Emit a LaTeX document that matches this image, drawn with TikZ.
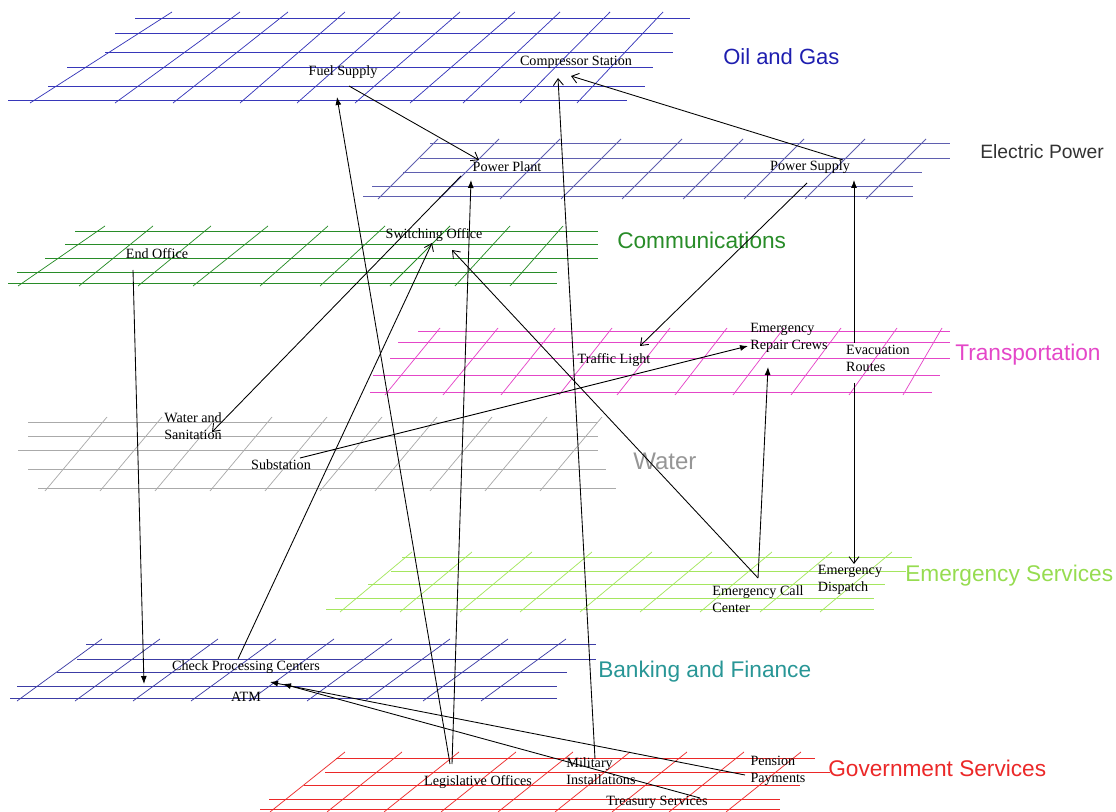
\documentclass[tikz,border=0pt]{standalone}
\usepackage{fontspec}
\setmainfont{Liberation Serif}
\setsansfont{Liberation Sans}
\usepackage{tikz}
\usetikzlibrary{arrows.meta}

\definecolor{oilblue}{RGB}{55,55,185}
\definecolor{oiltext}{RGB}{30,30,175}
\definecolor{powerblue}{RGB}{95,95,175}
\definecolor{powertext}{RGB}{50,50,50}
\definecolor{commgreen}{RGB}{40,140,40}
\definecolor{transpink}{RGB}{228,70,200}
\definecolor{watergray}{RGB}{170,170,170}
\definecolor{watertext}{RGB}{150,150,150}
\definecolor{emergreen}{RGB}{165,230,95}
\definecolor{emertext}{RGB}{150,220,80}
\definecolor{bankblue}{RGB}{60,60,165}
\definecolor{banktext}{RGB}{40,150,150}
\definecolor{govred}{RGB}{235,40,40}

\begin{document}
\begin{tikzpicture}[x=0.75pt,y=-0.75pt]
    %
    % `item' is used for the Times labels on the planes.
    % `layer' is used for the plane names on the right.
    % `opentip' and `solidtip' are the two kinds of dependency arrows.
    \tikzstyle{item} = [font=\fontsize{10.6}{12.6}\selectfont,inner sep=0pt,align=left]
    \tikzstyle{layer} = [font=\sffamily\fontsize{17}{20}\selectfont,anchor=west,inner sep=0pt]
    \tikzstyle{row} = [line width=0.65pt]
    \tikzstyle{slant} = [line width=0.55pt]
    \tikzstyle{opentip} = [line width=0.65pt,-{Straight Barb[length=5pt,width=7.5pt]}]
    \tikzstyle{solidtip} = [line width=0.65pt,-{Latex[length=6pt,width=4.5pt]}]
    %
    \useasboundingbox (0,0) rectangle (1116,812);
    %
    % Oil and Gas
    \foreach \y/\a/\b in {18/135/690, 33/115/673, 52/105/673, 67/67/653, 86/48/645, 100/8/627}
        \draw[row,oilblue] (\a,\y) -- (\b,\y);
    \foreach \a/\b in {30/172, 115/240, 173/288, 240/345, 297/400, 355/460, 410/515, 463/560, 520/610, 577/663}
        \draw[slant,oilblue] (\a,103) -- (\b,12);
    \node[layer,text=oiltext,font=\sffamily\fontsize{16.5}{20}\selectfont] (oilgas) at (723,57) {Oil and Gas};
    %
    % Electric Power
    \foreach \y/\a/\b in {143/430/950, 158/420/950, 172/403/922, 186/372/913, 196/363/913}
        \draw[row,powerblue] (\a,\y) -- (\b,\y);
    \foreach \a in {378, 439, 500, 561, 622, 683, 744, 805, 866}
        \draw[slant,powerblue] (\a,199) -- (\a+60,139);
    \node[layer,text=powertext,font=\sffamily\fontsize{14.5}{17}\selectfont] (power) at (980,152) {Electric Power};
    %
    % Communications
    \foreach \y/\a/\b in {231/75/598, 244/65/598, 258/45/598, 272/17/557, 283/8/557}
        \draw[row,commgreen] (\a,\y) -- (\b,\y);
    \foreach \a/\b in {18/105, 79/153, 138/211, 193/268, 260/328, 320/385, 390/450, 455/510, 510/563}
        \draw[slant,commgreen] (\a,286) -- (\b,226);
    \node[layer,text=commgreen] (comm) at (617,240) {Communications};
    %
    % Transportation
    \foreach \y/\a/\b in {331/418/950, 342/398/950, 358/390/950, 375/373/940, 392/370/932}
        \draw[row,transpink] (\a,\y) -- (\b,\y);
    \foreach \a/\b in {385/440, 443/498, 501/555, 559/612, 617/670, 675/727, 733/784, 791/841, 849/897, 903/942}
        \draw[slant,transpink] (\a,395) -- (\b,328);
    \node[layer,text=transpink] (trans) at (955,355) {Transportation};
    %
    % Water
    \foreach \y/\a/\b in {422/28/598, 436/28/598, 450/18/598, 469/28/606, 488/38/616}
        \draw[row,watergray] (\a,\y) -- (\b,\y);
    \foreach \a in {45, 100, 155, 210, 265, 320, 375, 430, 485, 540}
        \draw[slant,watergray] (\a,491) -- (\a+62,417);
    \node[layer,text=watertext,font=\sffamily\fontsize{18}{21}\selectfont] (water) at (633,461) {Water};
    %
    % Emergency Services
    \foreach \y/\a/\b in {557/402/912, 571/391/906, 584/368/885, 598/335/874, 609/326/874}
        \draw[row,emergreen] (\a,\y) -- (\b,\y);
    \foreach \a in {340, 400, 460, 520, 580, 640, 700, 760, 820}
        \draw[slant,emergreen] (\a,612) -- (\a+72,552);
    \node[layer,text=emertext] (emer) at (905,576) {Emergency Services};
    %
    % Banking and Finance
    \foreach \y/\a/\b in {644/86/596, 659/77/596, 672/57/567, 686/17/557, 698/10/557}
        \draw[row,bankblue] (\a,\y) -- (\b,\y);
    \foreach \a in {17, 75, 133, 191, 249, 307, 365, 423, 481}
        \draw[slant,bankblue] (\a,701) -- (\a+85,639);
    \node[layer,text=banktext] (bank) at (598,672) {Banking and Finance};
    %
    % Government Services
    \foreach \y/\a/\b in {758/336/815, 772/325/830, 785/304/800, 799/269/780, 809/260/780}
        \draw[row,govred] (\a,\y) -- (\b,\y);
    \foreach \a in {270, 327, 384, 441, 498, 555, 612, 669, 726}
        \draw[slant,govred] (\a,812) -- (\a+75,752);
    \node[layer,text=govred] (gov) at (828,768) {Government Services};
    %
    % Items
    \node[item] (fuel) at (343,72) {Fuel Supply};
    \node[item] (comp) at (576,62) {Compressor Station};
    \node[item] (plant) at (507,167) {Power Plant};
    \node[item] (psupply) at (810,167) {Power Supply};
    \node[item] (switch) at (434,235) {Switching Office};
    \node[item] (endoff) at (157,254) {End Office};
    \node[item] (repair) at (789,338) {Emergency\\Repair Crews};
    \node[item] (traffic) at (614,360) {Traffic Light};
    \node[item] (evac) at (878,358) {Evacuation\\Routes};
    \node[item] (watsan) at (193,426) {Water and\\Sanitation};
    \node[item] (subst) at (281,465) {Substation};
    \node[item] (callc) at (758,599) {Emergency Call\\Center};
    \node[item] (disp) at (850,580) {Emergency\\Dispatch};
    \node[item] (check) at (246,667) {Check Processing Centers};
    \node[item] (atm) at (246,697) {ATM};
    \node[item] (legis) at (478,782) {Legislative Offices};
    \node[item] (milit) at (601,771) {Military\\Installations};
    \node[item] (pension) at (778,771) {Pension\\Payments};
    \node[item] (treas) at (657,802) {Treasury Services};
    %
    % Dependencies
    \draw[opentip] ([shift={(6,14)}]fuel.center) -- ([shift={(-28,-7)}]plant.center);
    \draw[opentip] ([shift={(33,-7)}]psupply.center) -- ([shift={(-5,14)}]comp.center);
    \draw[opentip] ([shift={(-6,-12)}]milit.center) -- ([shift={(-18,16)}]comp.center);
    \draw[solidtip] ([shift={(-28,-18)}]legis.center) -- ([shift={(-6,25)}]fuel.center);
    \draw[solidtip] ([shift={(-26,-18)}]legis.center) -- ([shift={(-36,13)}]plant.center);
    \draw[opentip] ([shift={(-46,9)}]plant.center) -- ([shift={(19,6)}]watsan.center);
    \draw[opentip] ([shift={(-3,16)}]psupply.center) -- ([shift={(26,-14)}]traffic.center);
    \draw[solidtip] ([shift={(19,-7)}]subst.center) -- ([shift={(-41,8)}]repair.center);
    \draw[solidtip] ([shift={(0,-21)}]callc.center) -- ([shift={(-21,29)}]repair.center);
    \draw[opentip] ([shift={(0,-21)}]callc.center) -- ([shift={(18,15)}]switch.center);
    \draw[opentip] ([shift={(-8,-8)}]check.center) -- ([shift={(-2,8)}]switch.center);
    \draw[solidtip] ([shift={(-24,16)}]endoff.center) -- ([shift={(-102,17)}]check.center);
    \draw[solidtip] ([shift={(-24,-15)}]evac.center) -- ([shift={(44,13)}]psupply.center);
    \draw[opentip] ([shift={(-24,25)}]evac.center) -- ([shift={(4,-16)}]disp.center);
    \draw[solidtip] ([shift={(-33,4)}]pension.center) -- ([shift={(24,-15)}]atm.center);
    \draw[solidtip] ([shift={(43,-4)}]treas.center) -- ([shift={(37,-13)}]atm.center);
    %
\end{tikzpicture}
\end{document}
